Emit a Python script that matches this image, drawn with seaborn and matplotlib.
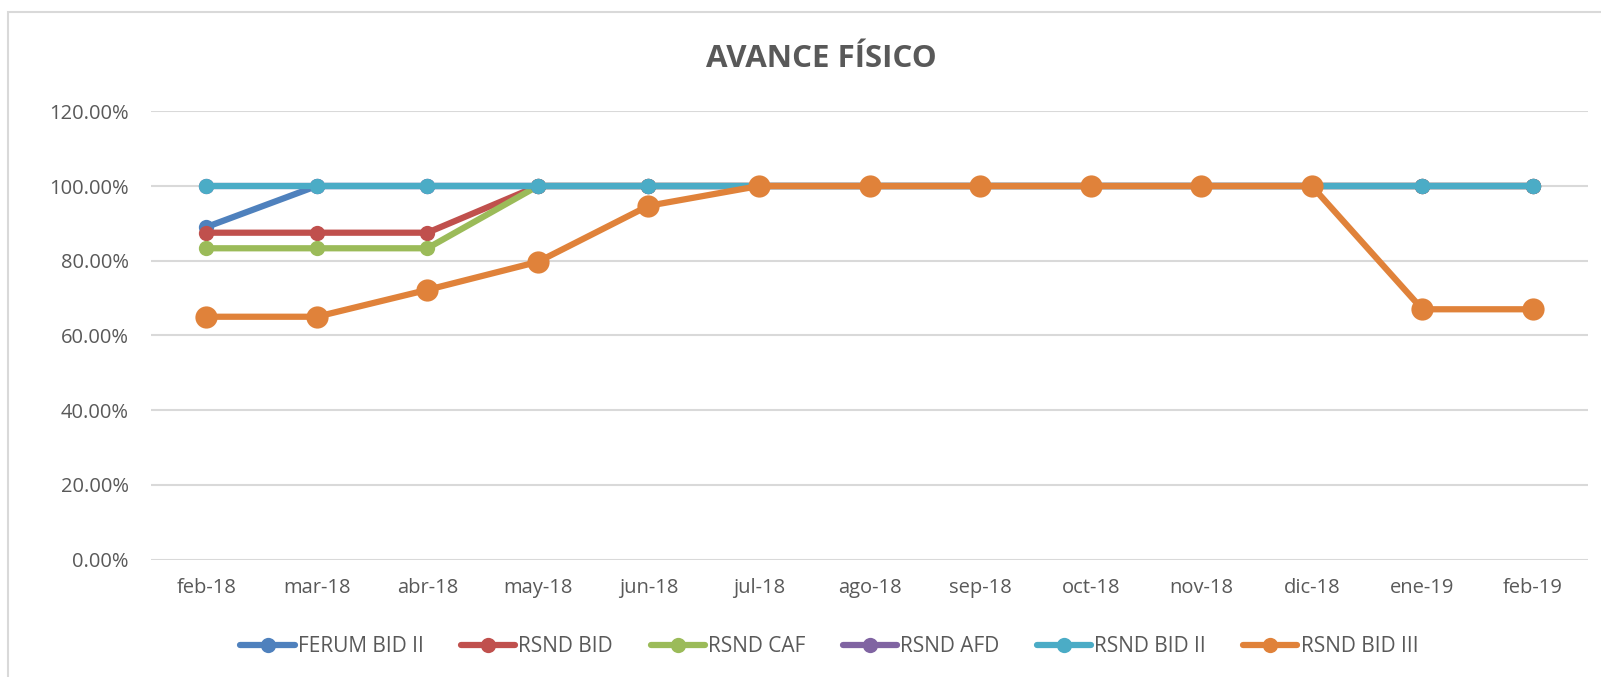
import matplotlib
matplotlib.use("Agg")
import matplotlib.pyplot as plt
import seaborn as sns
import pandas as pd
from matplotlib.patches import Rectangle
from matplotlib.lines import Line2D
from matplotlib.ticker import FuncFormatter

months = ["feb-18", "mar-18", "abr-18", "may-18", "jun-18", "jul-18", "ago-18",
          "sep-18", "oct-18", "nov-18", "dic-18", "ene-19", "feb-19"]
ferum_bid_ii = [0.89, 1, 1, 1, 1, 1, 1, 1, 1, 1, 1, 1, 1]
rsnd_bid = [0.875, 0.875, 0.875, 1, 1, 1, 1, 1, 1, 1, 1, 1, 1]
rsnd_caf = [0.8333, 0.8333, 0.8333, 1, 1, 1, 1, 1, 1, 1, 1, 1, 1]
rsnd_afd = [1, 1, 1, 1, 1, 1, 1, 1, 1, 1, 1, 1, 1]
rsnd_bid_ii = [1, 1, 1, 1, 1, 1, 1, 1, 1, 1, 1, 1, 1]
rsnd_bid_iii = [0.65, 0.65, 0.722, 0.797, 0.947, 1, 1, 1, 1, 1, 1, 0.67, 0.67]
y_ticks = [0, 0.2, 0.4, 0.6, 0.8, 1.0, 1.2]

series = [
    ("FERUM BID II", ferum_bid_ii, "#4F81BD", 11),
    ("RSND BID", rsnd_bid, "#C0504D", 11),
    ("RSND CAF", rsnd_caf, "#9BBB59", 11),
    ("RSND AFD", rsnd_afd, "#8064A2", 11),
    ("RSND BID II", rsnd_bid_ii, "#4BACC6", 11),
    ("RSND BID III", rsnd_bid_iii, "#E0823A", 16),
]

sns.set_theme(style="white")
plt.rcParams['font.family'] = ['Open Sans', 'DejaVu Sans']

fig = plt.figure(figsize=(16.01, 6.77), dpi=100)
ax = fig.add_axes([0.0943, 0.1735, 0.8977, 0.6621])

handles = []
for name, vals, color, ms in series:
    df = pd.DataFrame({"x": range(len(months)), "y": vals})
    sns.lineplot(data=df, x="x", y="y", ax=ax, color=color, linewidth=4.5,
                 marker="o", markersize=ms, markeredgewidth=0, legend=False)
    handles.append(Line2D([], [], color=color, linewidth=4.5, marker="o",
                          markersize=11, markeredgewidth=0, label=name))

ax.set_xlim(-0.5, len(months) - 0.5)
ax.set_ylim(0, 1.2)
ax.set_yticks(y_ticks)
ax.yaxis.set_major_formatter(FuncFormatter(lambda v, p: f"{v*100:.2f}%"))
ax.set_xticks(range(len(months)))
ax.set_xticklabels(months)
ax.set_xlabel("")
ax.set_ylabel("")
ax.grid(axis="y", color="#D9D9D9", linewidth=1.5)
ax.set_axisbelow(True)
for s in ax.spines.values():
    s.set_visible(False)
ax.tick_params(axis="both", length=0, labelsize=14.5, colors="#595959")
ax.tick_params(axis="x", pad=13)
ax.tick_params(axis="y", pad=16)

fig.legend(handles=handles, loc="center", bbox_to_anchor=(0.518, 0.045), ncol=6,
           frameon=False, fontsize=15, labelcolor="#595959", handlelength=2.6,
           columnspacing=1.8, handletextpad=0.15, numpoints=1)

fig.suptitle("AVANCE FÍSICO", x=0.513, y=0.935, fontsize=22.5, fontweight="bold",
             color="#595959")

fig.patches.append(Rectangle((8/1601, -0.01), 1.0, 1 - 12/677 + 0.01,
                             transform=fig.transFigure, fill=False,
                             edgecolor="#D9D9D9", linewidth=1.5))

fig.savefig("out.png", dpi=100, facecolor="white")
